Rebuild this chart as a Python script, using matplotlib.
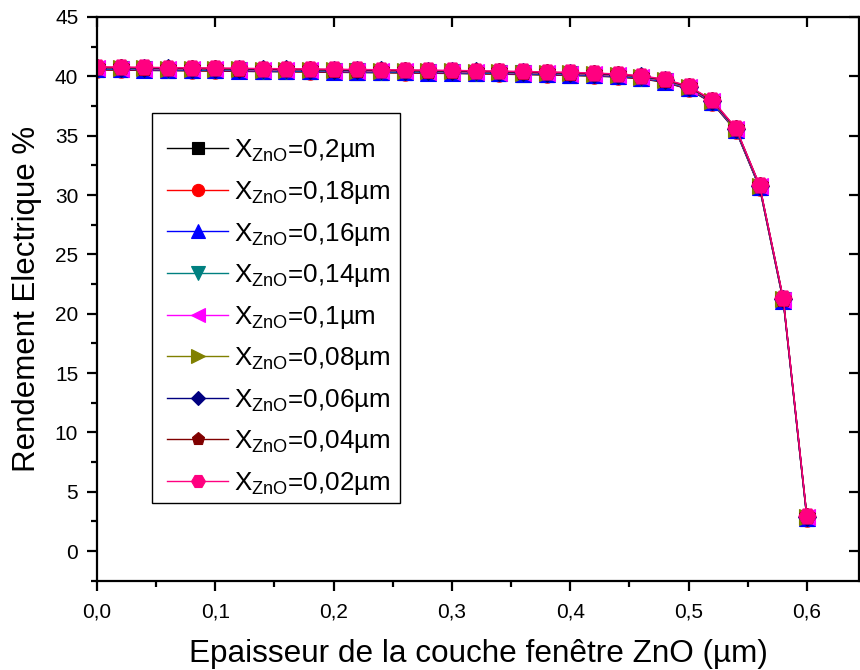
import matplotlib
matplotlib.use("Agg")
import matplotlib.pyplot as plt
from matplotlib.patches import Rectangle
from matplotlib.ticker import FixedLocator, FuncFormatter

plt.rcParams['font.family'] = ['Liberation Sans', 'DejaVu Sans']
plt.rcParams['mathtext.fontset'] = 'custom'
plt.rcParams['mathtext.rm'] = 'Liberation Sans'
plt.rcParams['mathtext.it'] = 'Liberation Sans:italic'

# Window-layer thickness (µm)
epaisseur = [0.00, 0.02, 0.04, 0.06, 0.08, 0.10, 0.12, 0.14, 0.16, 0.18,
             0.20, 0.22, 0.24, 0.26, 0.28, 0.30, 0.32, 0.34, 0.36, 0.38,
             0.40, 0.42, 0.44, 0.46, 0.48, 0.50, 0.52, 0.54, 0.56, 0.58, 0.60]

# Electrical efficiency (%) for each X_ZnO value
rend_0_2 = [40.54, 40.52, 40.50, 40.48, 40.46, 40.44, 40.42, 40.40, 40.38, 40.36,
            40.34, 40.32, 40.30, 40.28, 40.26, 40.24, 40.21, 40.18, 40.15, 40.11,
            40.07, 40.02, 39.94, 39.79, 39.49, 38.92, 37.74, 35.39, 30.59, 21.04, 2.69]
rend_0_18 = [40.57, 40.55, 40.53, 40.51, 40.49, 40.47, 40.45, 40.43, 40.41, 40.39,
             40.37, 40.35, 40.33, 40.31, 40.29, 40.27, 40.24, 40.21, 40.18, 40.14,
             40.10, 40.05, 39.97, 39.82, 39.52, 38.95, 37.77, 35.42, 30.62, 21.07, 2.72]
rend_0_16 = [40.60, 40.58, 40.56, 40.54, 40.52, 40.50, 40.48, 40.46, 40.44, 40.42,
             40.40, 40.38, 40.36, 40.34, 40.32, 40.30, 40.27, 40.24, 40.21, 40.17,
             40.13, 40.08, 40.00, 39.85, 39.55, 38.98, 37.80, 35.45, 30.65, 21.10, 2.75]
rend_0_14 = [40.63, 40.61, 40.59, 40.57, 40.55, 40.53, 40.51, 40.49, 40.47, 40.45,
             40.43, 40.41, 40.39, 40.37, 40.35, 40.33, 40.30, 40.27, 40.24, 40.20,
             40.16, 40.11, 40.03, 39.88, 39.58, 39.01, 37.83, 35.48, 30.68, 21.13, 2.78]
rend_0_1 = [40.68, 40.66, 40.64, 40.62, 40.60, 40.58, 40.56, 40.54, 40.52, 40.50,
            40.48, 40.46, 40.44, 40.42, 40.40, 40.38, 40.35, 40.32, 40.29, 40.25,
            40.21, 40.16, 40.08, 39.93, 39.63, 39.06, 37.88, 35.53, 30.73, 21.18, 2.83]
rend_0_08 = [40.71, 40.69, 40.67, 40.65, 40.63, 40.61, 40.59, 40.57, 40.55, 40.53,
             40.51, 40.49, 40.47, 40.45, 40.43, 40.41, 40.38, 40.35, 40.32, 40.28,
             40.24, 40.19, 40.11, 39.96, 39.66, 39.09, 37.91, 35.56, 30.76, 21.21, 2.86]
rend_0_06 = [40.74, 40.72, 40.70, 40.68, 40.66, 40.64, 40.62, 40.60, 40.58, 40.56,
             40.54, 40.52, 40.50, 40.48, 40.46, 40.44, 40.41, 40.38, 40.35, 40.31,
             40.27, 40.22, 40.14, 39.99, 39.69, 39.12, 37.94, 35.59, 30.79, 21.24, 2.89]
rend_0_04 = [40.77, 40.75, 40.73, 40.71, 40.69, 40.67, 40.65, 40.63, 40.61, 40.59,
             40.57, 40.55, 40.53, 40.51, 40.49, 40.47, 40.44, 40.41, 40.38, 40.34,
             40.30, 40.25, 40.17, 40.02, 39.72, 39.15, 37.97, 35.62, 30.82, 21.27, 2.92]
rend_0_02 = [40.80, 40.78, 40.76, 40.74, 40.72, 40.70, 40.68, 40.66, 40.64, 40.62,
             40.60, 40.58, 40.56, 40.54, 40.52, 40.50, 40.47, 40.44, 40.41, 40.37,
             40.33, 40.28, 40.20, 40.05, 39.75, 39.18, 38.00, 35.65, 30.85, 21.30, 2.95]

series_labels = ['0,2', '0,18', '0,16', '0,14', '0,1', '0,08', '0,06', '0,04', '0,02']
series_values = [rend_0_2, rend_0_18, rend_0_16, rend_0_14, rend_0_1,
                 rend_0_08, rend_0_06, rend_0_04, rend_0_02]

colors = ['#000000', '#ff0000', '#0000ff', '#008080', '#ff00ff',
          '#808000', '#000080', '#800000', '#ff0080']
markers = ['s', 'o', '^', 'v', '<', '>', 'D', 'p', 'H']
msizes = [10, 11, 12, 12, 12, 12, 9, 12, 12.5]

W, H = 860, 670
fig = plt.figure(figsize=(W / 100, H / 100), dpi=100)
ax = fig.add_axes([97 / W, 1 - 580.7 / H, 762 / W, 563.7 / H])

for vals, lab, c, m, ms in zip(series_values, series_labels, colors, markers, msizes):
    ax.plot(epaisseur, vals, color=c, lw=1.0, marker=m, ms=ms,
            markerfacecolor=c, markeredgecolor=c, mew=0.8,
            label=r'X$_{\mathrm{ZnO}}$=' + lab + 'µm')

ax.set_xlim(0, 0.644)
ax.set_ylim(-2.5, 45)

ax.xaxis.set_major_locator(FixedLocator([0, 0.1, 0.2, 0.3, 0.4, 0.5, 0.6]))
ax.xaxis.set_minor_locator(FixedLocator([0.05, 0.15, 0.25, 0.35, 0.45, 0.55]))
ax.xaxis.set_major_formatter(FuncFormatter(lambda v, p: f'{v:.1f}'.replace('.', ',')))
ax.yaxis.set_major_locator(FixedLocator(list(range(0, 50, 5))))
ax.yaxis.set_minor_locator(FixedLocator([-2.5 + 5 * i for i in range(10)]))

for s in ax.spines.values():
    s.set_linewidth(1.6)
ax.tick_params(which='major', direction='out', length=7.5, width=1.6, labelsize=15)
ax.tick_params(which='minor', direction='out', length=4, width=1.6)
ax.tick_params(axis='x', pad=8)
ax.tick_params(axis='y', pad=6)

top = ax.secondary_xaxis('top')
top.set_xticks([0, 0.1, 0.2, 0.3, 0.4, 0.5, 0.6])
top.tick_params(direction='in', length=7.5, width=1.6, labeltop=False)
right = ax.secondary_yaxis('right')
right.set_yticks(list(range(0, 50, 5)))
right.tick_params(direction='in', length=7.5, width=1.6, labelright=False)

ax.set_xlabel('Epaisseur de la couche fenêtre ZnO (µm)', fontsize=22.7, labelpad=13)
ax.set_ylabel('Rendement Electrique %', fontsize=22.5, labelpad=9)

# Legend entries without their own frame; the box is drawn separately
leg = ax.legend(loc='upper left', bbox_to_anchor=(167 / W, 1 - 137.5 / H),
                bbox_transform=fig.transFigure, borderaxespad=0, borderpad=0,
                fontsize=18.7, frameon=False, handlelength=2.35, handletextpad=0.22,
                labelspacing=0.56, markerscale=0.8)
leg.set_zorder(6)
box = Rectangle((152 / W, 1 - 503 / H), 248 / W, 390 / H,
                transform=fig.transFigure, facecolor='white', edgecolor='black',
                lw=1.0, zorder=5.5)
ax.add_artist(box)

fig.savefig('out.png', dpi=100)
